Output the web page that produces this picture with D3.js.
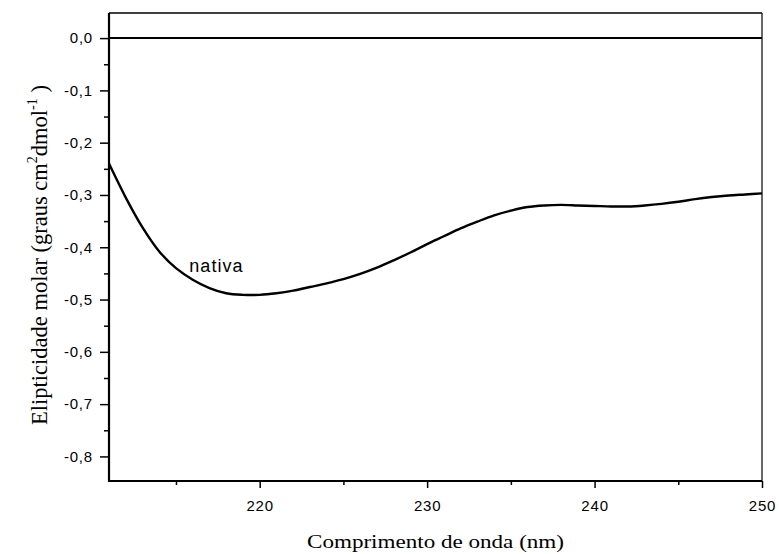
<!DOCTYPE html>
<html><head><meta charset="utf-8">
<script src="https://cdn.jsdelivr.net/npm/d3@7"></script>
<style>html,body{margin:0;padding:0;background:#fff;}</style>
</head><body>
<svg id="c" width="779" height="554"></svg>
<script>
const wavelength = [211,212,213,214,215,216,217,218,219,220,221,222,223,224,225,226,227,228,229,230,231,232,233,234,235,236,237,238,239,240,241,242,243,244,245,246,247,248,249,250];
const ellipticity = [-0.240,-0.305,-0.362,-0.408,-0.440,-0.462,-0.478,-0.488,-0.491,-0.491,-0.488,-0.483,-0.476,-0.469,-0.461,-0.451,-0.439,-0.425,-0.410,-0.394,-0.379,-0.364,-0.351,-0.339,-0.330,-0.323,-0.320,-0.319,-0.320,-0.321,-0.322,-0.322,-0.320,-0.317,-0.313,-0.308,-0.304,-0.301,-0.299,-0.297];
const xMajorTicks = [220,230,240,250];
const xMinorTicks = [215,225,235,245];
const yMajorTicks = [0,-0.1,-0.2,-0.3,-0.4,-0.5,-0.6,-0.7,-0.8];
const yMinorTicks = [-0.05,-0.15,-0.25,-0.35,-0.45,-0.55,-0.65,-0.75];
const seriesLabel = "nativa";
const xTitle = "Comprimento de onda (nm)";

const L=109, R=762, T=13, B=481;
const svg = d3.select("#c");
const x = d3.scaleLinear().domain([211,250]).range([L,R]);
const y = d3.scaleLinear().domain([-0.847,0.048]).range([B,T]);
const fmt = v => d3.format(".1f")(v).replace("\u2212","-").replace(".",",");

// frame top/right
svg.append("line").attr("x1",L).attr("x2",R).attr("y1",T).attr("y2",T).attr("stroke","#000").attr("stroke-width",1.5);
svg.append("line").attr("x1",R).attr("x2",R).attr("y1",T).attr("y2",B).attr("stroke","#000").attr("stroke-width",1.2);

// zero line
svg.append("line").attr("x1",x(211)).attr("x2",R).attr("y1",y(0)).attr("y2",y(0)).attr("stroke","#000").attr("stroke-width",2);

// bottom axis
const gx = svg.append("g").attr("transform",`translate(0,${B})`)
  .call(d3.axisBottom(x).tickValues(xMajorTicks).tickSize(7).tickPadding(12).tickFormat(d3.format("d")));
gx.select(".domain").remove();
svg.append("g").attr("transform",`translate(0,${B})`)
  .call(d3.axisBottom(x).tickValues(xMinorTicks).tickSize(4).tickFormat("")).select(".domain").remove();
svg.append("line").attr("x1",L-1).attr("x2",R).attr("y1",B).attr("y2",B).attr("stroke","#000").attr("stroke-width",2);

// left axis
const gy = svg.append("g").attr("transform",`translate(${L},0)`)
  .call(d3.axisLeft(y).tickValues(yMajorTicks).tickSize(9).tickPadding(7).tickFormat(fmt));
gy.select(".domain").remove();
svg.append("g").attr("transform",`translate(${L},0)`)
  .call(d3.axisLeft(y).tickValues(yMinorTicks).tickSize(5).tickFormat("")).select(".domain").remove();
svg.append("line").attr("x1",L).attr("x2",L).attr("y1",T).attr("y2",B+1).attr("stroke","#000").attr("stroke-width",2.2);

svg.selectAll(".tick line").attr("stroke","#000").attr("stroke-width",1.5);
svg.selectAll(".tick text").attr("font-family","'Liberation Sans', Arial, sans-serif").attr("font-size",15).attr("fill","#000").style("letter-spacing","0.8px");

// curve
const line = d3.line().x((d,i)=>x(wavelength[i])).y(d=>y(d)).curve(d3.curveCatmullRom);
svg.append("path").datum(ellipticity).attr("d",line).attr("fill","none").attr("stroke","#000").attr("stroke-width",2.4);

// series label
svg.append("text").attr("x",x(215.8)).attr("y",y(-0.447)).attr("font-family","'Liberation Sans', Arial, sans-serif").attr("font-size",18).attr("fill","#000").style("letter-spacing","1px").text(seriesLabel);

// axis titles
svg.append("text").attr("x",(L+R)/2).attr("y",548).attr("text-anchor","middle")
  .attr("font-family","'Liberation Serif','Times New Roman',serif").attr("font-size",19).attr("fill","#000")
  .attr("textLength",257).attr("lengthAdjust","spacingAndGlyphs").text(xTitle);

const yt = svg.append("text").attr("transform","translate(47,255) rotate(-90)").attr("text-anchor","middle")
  .attr("font-family","'Liberation Serif','Times New Roman',serif").attr("font-size",22.5).attr("fill","#000");
yt.append("tspan").text("Elipticidade molar (graus cm");
yt.append("tspan").attr("dy",-10).attr("font-size",14).text("2");
yt.append("tspan").attr("dy",10).text("dmol");
yt.append("tspan").attr("dy",-10).attr("font-size",14).text("-1");
yt.append("tspan").attr("dy",10).text(" )");
</script>
</body></html>
